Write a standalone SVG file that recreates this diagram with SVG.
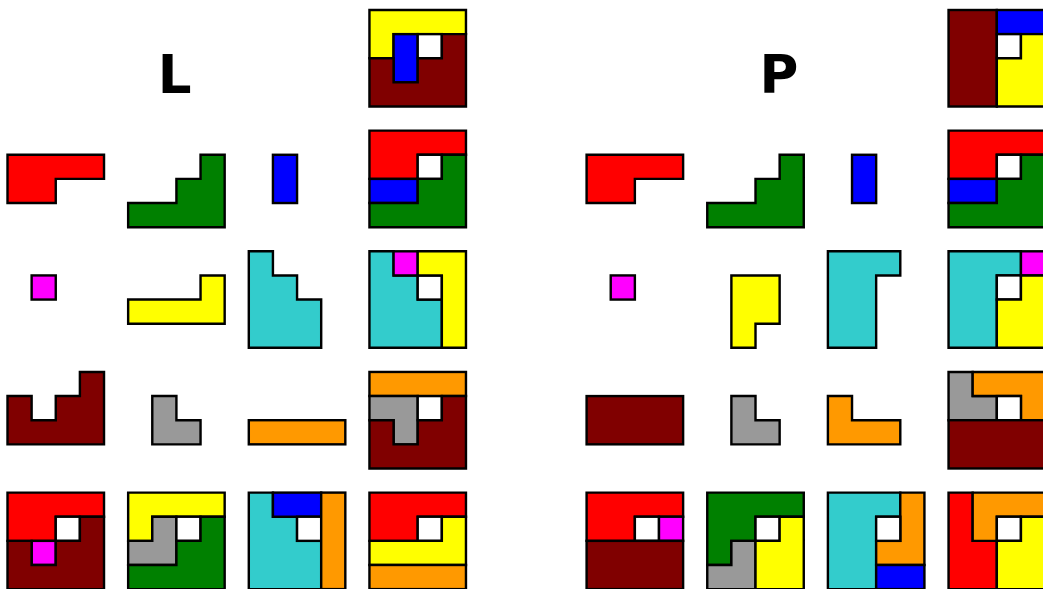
<svg xmlns="http://www.w3.org/2000/svg" width="1043" height="589" viewBox="0 0 1043 589">
<style>
polygon,rect{stroke:#000;stroke-width:0.1;stroke-linejoin:miter}
.r{fill:#ff0000}.g{fill:#008000}.b{fill:#0000ff}.m{fill:#ff00ff}.y{fill:#ffff00}
.c{fill:#33cccc}.k{fill:#800000}.s{fill:#999999}.o{fill:#ff9900}.w{fill:#ffffff}
.t{font-family:"DejaVu Sans",sans-serif;font-weight:bold;font-size:53px;fill:#000;text-anchor:middle}
</style>
<rect x="0" y="0" width="1043" height="589" fill="#fff" style="stroke:none"/>
<text class="t" x="174.6" y="93">L</text>
<text class="t" x="779" y="93">P</text>

<g id="L-0-3" transform="translate(369.45,10) scale(24.13)">
<polygon class="y" points="0,0 4,0 4,1 1,1 1,2 0,2"/>
<rect class="b" x="1" y="1" width="1" height="2"/>
<rect class="w" x="2" y="1" width="1" height="1"/>
<polygon class="k" points="3,1 4,1 4,4 0,4 0,2 1,2 1,3 2,3 2,2 3,2"/>
</g>

<g id="L-1-0" transform="translate(7.5,130.65) scale(24.13)">
<polygon class="r" points="0,1 4,1 4,2 2,2 2,3 0,3"/>
</g>
<g id="L-1-1" transform="translate(128.15,130.65) scale(24.13)">
<polygon class="g" points="3,1 4,1 4,4 0,4 0,3 2,3 2,2 3,2"/>
</g>
<g id="L-1-2" transform="translate(248.8,130.65) scale(24.13)">
<rect class="b" x="1" y="1" width="1" height="2"/>
</g>
<g id="L-1-3" transform="translate(369.45,130.65) scale(24.13)">
<polygon class="r" points="0,0 4,0 4,1 2,1 2,2 0,2"/>
<rect class="w" x="2" y="1" width="1" height="1"/>
<rect class="b" x="0" y="2" width="2" height="1"/>
<polygon class="g" points="3,1 4,1 4,4 0,4 0,3 2,3 2,2 3,2"/>
</g>

<g id="L-2-0" transform="translate(7.5,251.3) scale(24.13)">
<rect class="m" x="1" y="1" width="1" height="1"/>
</g>
<g id="L-2-1" transform="translate(128.15,251.3) scale(24.13)">
<polygon class="y" points="3,1 4,1 4,3 0,3 0,2 3,2"/>
</g>
<g id="L-2-2" transform="translate(248.8,251.3) scale(24.13)">
<polygon class="c" points="0,0 1,0 1,1 2,1 2,2 3,2 3,4 0,4"/>
</g>
<g id="L-2-3" transform="translate(369.45,251.3) scale(24.13)">
<polygon class="c" points="0,0 1,0 1,1 2,1 2,2 3,2 3,4 0,4"/>
<rect class="m" x="1" y="0" width="1" height="1"/>
<rect class="w" x="2" y="1" width="1" height="1"/>
<polygon class="y" points="2,0 4,0 4,4 3,4 3,1 2,1"/>
</g>

<g id="L-3-0" transform="translate(7.5,371.95) scale(24.13)">
<polygon class="k" points="3,0 4,0 4,3 0,3 0,1 1,1 1,2 2,2 2,1 3,1"/>
</g>
<g id="L-3-1" transform="translate(128.15,371.95) scale(24.13)">
<polygon class="s" points="1,1 2,1 2,2 3,2 3,3 1,3"/>
</g>
<g id="L-3-2" transform="translate(248.8,371.95) scale(24.13)">
<rect class="o" x="0" y="2" width="4" height="1"/>
</g>
<g id="L-3-3" transform="translate(369.45,371.95) scale(24.13)">
<rect class="o" x="0" y="0" width="4" height="1"/>
<polygon class="s" points="0,1 2,1 2,3 1,3 1,2 0,2"/>
<rect class="w" x="2" y="1" width="1" height="1"/>
<polygon class="k" points="3,1 4,1 4,4 0,4 0,2 1,2 1,3 2,3 2,2 3,2"/>
</g>

<g id="L-4-0" transform="translate(7.5,492.6) scale(24.13)">
<polygon class="r" points="0,0 4,0 4,1 2,1 2,2 0,2"/>
<rect class="w" x="2" y="1" width="1" height="1"/>
<rect class="m" x="1" y="2" width="1" height="1"/>
<polygon class="k" points="3,1 4,1 4,4 0,4 0,2 1,2 1,3 2,3 2,2 3,2"/>
</g>
<g id="L-4-1" transform="translate(128.15,492.6) scale(24.13)">
<polygon class="y" points="0,0 4,0 4,1 1,1 1,2 0,2"/>
<polygon class="s" points="1,1 2,1 2,3 0,3 0,2 1,2"/>
<rect class="w" x="2" y="1" width="1" height="1"/>
<polygon class="g" points="3,1 4,1 4,4 0,4 0,3 2,3 2,2 3,2"/>
</g>
<g id="L-4-2" transform="translate(248.8,492.6) scale(24.13)">
<polygon class="c" points="0,0 1,0 1,1 2,1 2,2 3,2 3,4 0,4"/>
<rect class="b" x="1" y="0" width="2" height="1"/>
<rect class="w" x="2" y="1" width="1" height="1"/>
<rect class="o" x="3" y="0" width="1" height="4"/>
</g>
<g id="L-4-3" transform="translate(369.45,492.6) scale(24.13)">
<polygon class="r" points="0,0 4,0 4,1 2,1 2,2 0,2"/>
<rect class="w" x="2" y="1" width="1" height="1"/>
<polygon class="y" points="3,1 4,1 4,3 0,3 0,2 3,2"/>
<rect class="o" x="0" y="3" width="4" height="1"/>
</g>

<g id="P-0-3" transform="translate(948.55,10) scale(24.13)">
<rect class="k" x="0" y="0" width="2" height="4"/>
<rect class="b" x="2" y="0" width="2" height="1"/>
<rect class="w" x="2" y="1" width="1" height="1"/>
<polygon class="y" points="3,1 4,1 4,4 2,4 2,2 3,2"/>
</g>

<g id="P-1-0" transform="translate(586.6,130.65) scale(24.13)">
<polygon class="r" points="0,1 4,1 4,2 2,2 2,3 0,3"/>
</g>
<g id="P-1-1" transform="translate(707.25,130.65) scale(24.13)">
<polygon class="g" points="3,1 4,1 4,4 0,4 0,3 2,3 2,2 3,2"/>
</g>
<g id="P-1-2" transform="translate(827.9,130.65) scale(24.13)">
<rect class="b" x="1" y="1" width="1" height="2"/>
</g>
<g id="P-1-3" transform="translate(948.55,130.65) scale(24.13)">
<polygon class="r" points="0,0 4,0 4,1 2,1 2,2 0,2"/>
<rect class="w" x="2" y="1" width="1" height="1"/>
<rect class="b" x="0" y="2" width="2" height="1"/>
<polygon class="g" points="3,1 4,1 4,4 0,4 0,3 2,3 2,2 3,2"/>
</g>

<g id="P-2-0" transform="translate(586.6,251.3) scale(24.13)">
<rect class="m" x="1" y="1" width="1" height="1"/>
</g>
<g id="P-2-1" transform="translate(707.25,251.3) scale(24.13)">
<polygon class="y" points="1,1 3,1 3,3 2,3 2,4 1,4"/>
</g>
<g id="P-2-2" transform="translate(827.9,251.3) scale(24.13)">
<polygon class="c" points="0,0 3,0 3,1 2,1 2,4 0,4"/>
</g>
<g id="P-2-3" transform="translate(948.55,251.3) scale(24.13)">
<polygon class="c" points="0,0 3,0 3,1 2,1 2,4 0,4"/>
<rect class="w" x="2" y="1" width="1" height="1"/>
<rect class="m" x="3" y="0" width="1" height="1"/>
<polygon class="y" points="3,1 4,1 4,4 2,4 2,2 3,2"/>
</g>

<g id="P-3-0" transform="translate(586.6,371.95) scale(24.13)">
<rect class="k" x="0" y="1" width="4" height="2"/>
</g>
<g id="P-3-1" transform="translate(707.25,371.95) scale(24.13)">
<polygon class="s" points="1,1 2,1 2,2 3,2 3,3 1,3"/>
</g>
<g id="P-3-2" transform="translate(827.9,371.95) scale(24.13)">
<polygon class="o" points="0,1 1,1 1,2 3,2 3,3 0,3"/>
</g>
<g id="P-3-3" transform="translate(948.55,371.95) scale(24.13)">
<polygon class="s" points="0,0 1,0 1,1 2,1 2,2 0,2"/>
<polygon class="o" points="1,0 4,0 4,2 3,2 3,1 1,1"/>
<rect class="w" x="2" y="1" width="1" height="1"/>
<rect class="k" x="0" y="2" width="4" height="2"/>
</g>

<g id="P-4-0" transform="translate(586.6,492.6) scale(24.13)">
<polygon class="r" points="0,0 4,0 4,1 2,1 2,2 0,2"/>
<rect class="w" x="2" y="1" width="1" height="1"/>
<rect class="m" x="3" y="1" width="1" height="1"/>
<rect class="k" x="0" y="2" width="4" height="2"/>
</g>
<g id="P-4-1" transform="translate(707.25,492.6) scale(24.13)">
<polygon class="g" points="0,0 4,0 4,1 2,1 2,2 1,2 1,3 0,3"/>
<rect class="w" x="2" y="1" width="1" height="1"/>
<polygon class="s" points="1,2 2,2 2,4 0,4 0,3 1,3"/>
<polygon class="y" points="3,1 4,1 4,4 2,4 2,2 3,2"/>
</g>
<g id="P-4-2" transform="translate(827.9,492.6) scale(24.13)">
<polygon class="c" points="0,0 3,0 3,1 2,1 2,4 0,4"/>
<polygon class="o" points="3,0 4,0 4,3 2,3 2,2 3,2"/>
<rect class="w" x="2" y="1" width="1" height="1"/>
<rect class="b" x="2" y="3" width="2" height="1"/>
</g>
<g id="P-4-3" transform="translate(948.55,492.6) scale(24.13)">
<polygon class="r" points="0,0 1,0 1,2 2,2 2,4 0,4"/>
<polygon class="o" points="1,0 4,0 4,1 2,1 2,2 1,2"/>
<rect class="w" x="2" y="1" width="1" height="1"/>
<polygon class="y" points="3,1 4,1 4,4 2,4 2,2 3,2"/>
</g>
</svg>
